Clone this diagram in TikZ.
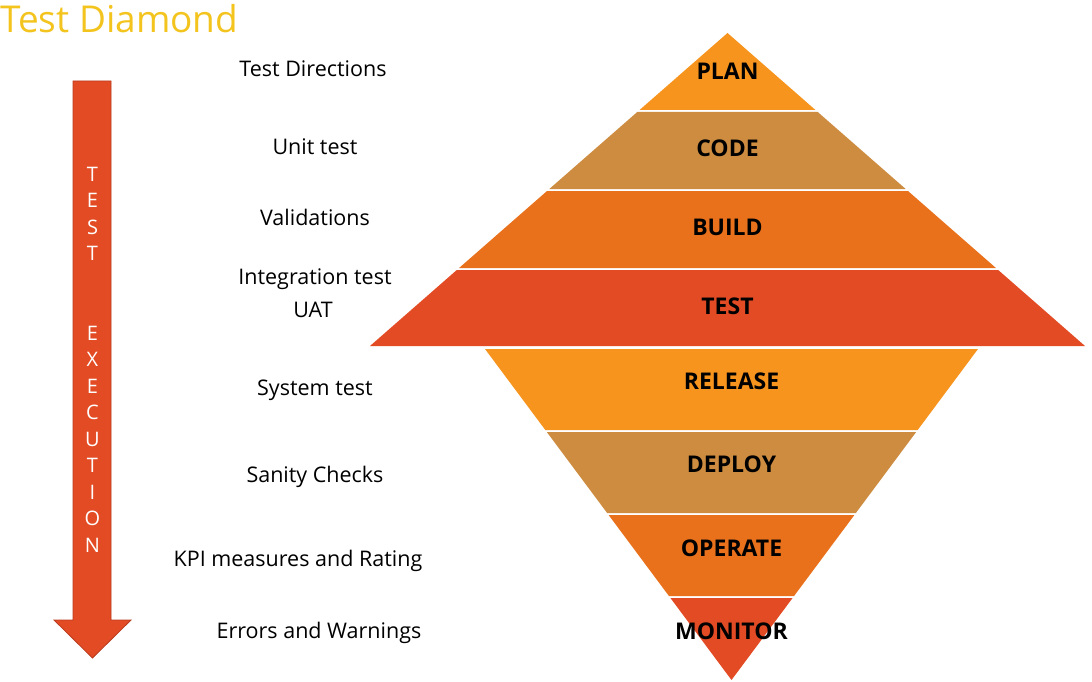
\documentclass[tikz,border=0pt]{standalone}
\usepackage{fontspec}
\setmainfont{Open Sans}
\definecolor{cplan}{RGB}{247,148,30}
\definecolor{ccode}{RGB}{205,140,64}
\definecolor{cbuild}{RGB}{233,113,28}
\definecolor{ctest}{RGB}{227,75,36}
\definecolor{carrowline}{RGB}{185,60,30}
\definecolor{ctitle}{RGB}{244,196,30}
% band of the upper triangle: apex (727.5,33), slope 1.1422
\newcommand\upband[3]{%
  \fill[#3] ({727.5-1.1422*(#1-33)},#1) -- ({727.5+1.1422*(#1-33)},#1)
    -- ({727.5+1.1422*(#2-33)},#2) -- ({727.5-1.1422*(#2-33)},#2) -- cycle;}
% band of the lower triangle: apex (731.5,680), slope 0.7447
\newcommand\downband[3]{%
  \fill[#3] ({731.5-0.7447*(680-#1)},#1) -- ({731.5+0.7447*(680-#1)},#1)
    -- ({731.5+0.7447*(680-#2)},#2) -- ({731.5-0.7447*(680-#2)},#2) -- cycle;}
\begin{document}
\begin{tikzpicture}[x=1pt,y=-1pt,
  lbl/.style={font=\fontsize{21.5}{25}\selectfont, inner sep=0pt, text height=15pt, text depth=0pt},
  bandlbl/.style={font=\fontsize{23}{28}\selectfont\bfseries, inner sep=0pt, text height=17pt, text depth=0pt}]
\useasboundingbox (0,0) rectangle (1092,682);
\fill[white] (0,0) rectangle (1092,682);

% title
\node[font=\fontsize{37}{40}\selectfont, text=ctitle, anchor=base west, inner sep=0pt] (title) at (0,33) {Test Diamond};

% execution arrow
\filldraw[fill=ctest, draw=carrowline, line width=0.8pt]
  (73,81) -- (111,81) -- (111,620) -- (131,620) -- (92.5,658) -- (54,620) -- (73,620) -- cycle;
\node[font=\fontsize{20}{26.5}\selectfont, text=white, align=center, inner sep=0pt, anchor=north] (exec) at (92.5,167)
  {T\\E\\S\\T\\[53pt]E\\X\\E\\C\\U\\T\\I\\O\\N};

% upper triangle
\upband{33}{110}{cplan}
\upband{112}{189}{ccode}
\upband{191}{268}{cbuild}
\upband{270}{346}{ctest}
% lower triangle
\downband{349}{430}{cplan}
\downband{432}{513}{ccode}
\downband{515}{596}{cbuild}
\downband{598}{680}{ctest}

% stage names
\node[bandlbl] (plan) at (727.5,71) {PLAN};
\node[bandlbl] (code) at (727.5,148) {CODE};
\node[bandlbl] (build) at (727.5,227) {BUILD};
\node[bandlbl] (test) at (727.5,306) {TEST};
\node[bandlbl] (release) at (731.5,381) {RELEASE};
\node[bandlbl] (deploy) at (731.5,464) {DEPLOY};
\node[bandlbl] (operate) at (731.5,548) {OPERATE};
\node[bandlbl] (monitor) at (731.5,631) {MONITOR};

% activities
\node[lbl] (dir) at (313,69) {Test Directions};
\node[lbl] (unit) at (315,147) {Unit test};
\node[lbl] (val) at (315,218) {Validations};
\node[lbl] (integ) at (315,277) {Integration test};
\node[lbl] (uat) at (313,310) {UAT};
\node[lbl] (sys) at (315,388) {System test};
\node[lbl] (san) at (315,475) {Sanity Checks};
\node[lbl] (kpi) at (298,559) {KPI measures and Rating};
\node[lbl] (err) at (319,631) {Errors and Warnings};
\end{tikzpicture}
\end{document}
